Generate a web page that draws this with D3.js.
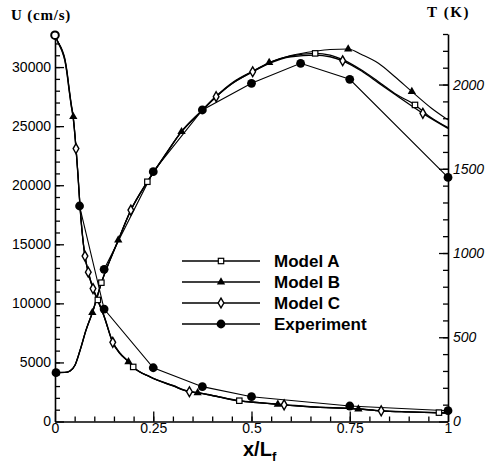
<!DOCTYPE html>
<html>
<head>
<meta charset="utf-8">
<script src="https://cdn.jsdelivr.net/npm/d3@7"></script>
<style>
  body { margin: 0; background: #fff; }
  text { fill: #000; }
</style>
</head>
<body>
<div id="chart"></div>
<script>
// velocity U (cm/s) along x/Lf, [x, U, marker]
const modelAU = [[0,32700,0],[0.0076,32100,0],[0.0178,31400,0],[0.0254,30560,0],[0.0305,29540,0],[0.0356,28190,0],[0.0407,26920,0],[0.0466,25650,0],[0.0534,23150,0],[0.0585,20870,0],[0.0636,18240,0],[0.0687,16210,0],[0.0763,14010,0],[0.0847,12660,0],[0.0967,11300,0],[0.109,10290,1],[0.125,8930,0],[0.147,6730,0],[0.165,5800,0],[0.187,5080,0],[0.199,4620,1],[0.242,3790,0],[0.3,3050,0],[0.342,2540,0],[0.363,2450,0],[0.4,2220,0],[0.469,1760,1],[0.52,1600,0],[0.567,1470,0],[0.583,1420,0],[0.65,1260,0],[0.772,1070,0],[0.83,910,0],[0.9,820,0],[0.977,750,1],[1,730,0]]
const modelBU = [[0,32700,0],[0.0076,32150,0],[0.0178,31500,0],[0.0254,30700,0],[0.0305,29700,0],[0.0356,28350,0],[0.0407,27050,0],[0.0466,25800,1],[0.0534,23250,0],[0.0585,20900,0],[0.0636,18240,0],[0.0687,16150,0],[0.0763,13950,0],[0.0847,12600,0],[0.0967,11200,0],[0.109,10200,0],[0.125,8850,0],[0.147,6650,0],[0.165,5750,0],[0.187,5050,1],[0.199,4600,0],[0.242,3760,0],[0.3,3000,0],[0.342,2510,0],[0.363,2430,1],[0.4,2190,0],[0.469,1730,0],[0.52,1580,0],[0.567,1450,1],[0.583,1400,0],[0.65,1230,0],[0.772,1050,1],[0.83,890,0],[0.9,800,0],[0.977,720,0],[1,700,0]]
const modelCU = [[0,32700,0],[0.0076,32100,0],[0.0178,31350,0],[0.0254,30500,0],[0.0305,29450,0],[0.0356,28100,0],[0.0407,26850,0],[0.0466,25600,0],[0.0534,23100,1],[0.0585,20800,0],[0.0636,18200,0],[0.0687,16100,0],[0.0763,14000,1],[0.0847,12640,1],[0.0967,11250,1],[0.109,10250,0],[0.125,8900,0],[0.147,6700,1],[0.165,5780,0],[0.187,5060,0],[0.199,4610,0],[0.242,3780,0],[0.3,3030,0],[0.342,2520,1],[0.363,2440,0],[0.4,2200,0],[0.469,1745,0],[0.52,1590,0],[0.567,1460,0],[0.583,1410,1],[0.65,1245,0],[0.772,1060,0],[0.83,900,1],[0.9,810,0],[0.977,735,0],[1,715,0]]
const expU = [[0.0625,18240],[0.125,9520],[0.25,4550],[0.375,2950],[0.5,2100],[0.75,1310],[1,914]]

// temperature T (K) along x/Lf, [x, T, marker]
const modelAT = [[0,290,0],[0.025,291,0],[0.038,300,0],[0.051,335,0],[0.064,424,0],[0.079,543,0],[0.095,646,0],[0.118,824,1],[0.161,1077,0],[0.193,1255,0],[0.235,1423,1],[0.28,1580,0],[0.322,1720,0],[0.37,1835,0],[0.41,1928,0],[0.45,2005,0],[0.503,2076,0],[0.545,2130,0],[0.6,2170,0],[0.662,2185,1],[0.7,2175,0],[0.732,2148,0],[0.78,2086,0],[0.823,2017,0],[0.87,1939,0],[0.916,1879,1],[0.95,1815,0],[1,1744,0]]
const modelBT = [[0,290,0],[0.025,291,0],[0.038,300,0],[0.051,336,0],[0.064,426,0],[0.079,545,0],[0.095,646,1],[0.118,822,0],[0.161,1077,1],[0.193,1252,0],[0.235,1420,0],[0.28,1578,0],[0.322,1720,1],[0.37,1837,0],[0.41,1932,0],[0.45,2010,0],[0.503,2080,0],[0.545,2130,1],[0.6,2172,0],[0.662,2198,0],[0.7,2208,0],[0.746,2211,1],[0.78,2178,0],[0.823,2126,0],[0.865,2046,0],[0.908,1958,1],[0.958,1859,0],[1,1790,0]]
const modelCT = [[0,290,0],[0.025,291,0],[0.038,299,0],[0.051,334,0],[0.064,422,0],[0.079,541,0],[0.095,644,0],[0.118,822,0],[0.161,1075,0],[0.193,1255,1],[0.235,1424,0],[0.28,1582,0],[0.322,1722,0],[0.37,1838,0],[0.41,1928,1],[0.45,2005,0],[0.503,2076,1],[0.545,2126,0],[0.6,2165,0],[0.662,2175,0],[0.7,2165,0],[0.732,2141,1],[0.78,2080,0],[0.823,2010,0],[0.87,1933,0],[0.936,1829,1],[1,1740,0]]
const expT = [[0.125,903],[0.25,1483],[0.375,1849],[0.5,2007],[0.625,2126],[0.75,2031],[1,1449]]

// inlet measurement at x = 0
const inletU = 32700
const inletT = 290

const legendNames = ['Model A', 'Model B', 'Model C', 'Experiment']
const xTicks = [0, 0.25, 0.5, 0.75, 1]
const xTickLabels = ['0', '0.25', '0.5', '0.75', '1']
const uTicks = [0, 5000, 10000, 15000, 20000, 25000, 30000]
const tTicks = [0, 500, 1000, 1500, 2000]

const W = 495, H = 467
const svg = d3.select('#chart').append('svg')
    .attr('width', W)
    .attr('height', H)
    .style('font-family', '"Liberation Sans", Arial, sans-serif')

const x = d3.scaleLinear([0, 1], [55, 448])
const yU = d3.scaleLinear([0, 32800], [421.5, 34])
const yT = d3.scaleLinear([0, 2300], [421.5, 34])

// axes, ticks point inward
const axisStyle = g => {
    g.select('.domain').attr('stroke', '#000').attr('stroke-width', 1.6)
    g.selectAll('.tick line').attr('stroke', '#000').attr('stroke-width', 1.3)
    g.selectAll('text').attr('font-size', 14).attr('fill', '#000')
}

svg.append('g').attr('transform', 'translate(55,0)')
    .call(d3.axisLeft(yU).tickValues(d3.range(1000, 32001, 1000)).tickSize(-5).tickSizeOuter(0).tickFormat(''))
    .call(axisStyle)
svg.append('g').attr('transform', 'translate(55,0)')
    .call(d3.axisLeft(yU).tickValues(uTicks).tickSize(-9).tickSizeOuter(0).tickPadding(4).tickFormat(d3.format('d')))
    .call(axisStyle)
    .call(g => g.select('.domain').remove())

svg.append('g').attr('transform', 'translate(448,0)')
    .call(d3.axisRight(yT).tickValues(d3.range(100, 2301, 100)).tickSize(-5).tickSizeOuter(0).tickFormat(''))
    .call(axisStyle)
svg.append('g').attr('transform', 'translate(448,0)')
    .call(d3.axisRight(yT).tickValues(tTicks).tickSize(-9).tickSizeOuter(0).tickPadding(5).tickFormat(d3.format('d')))
    .call(axisStyle)
    .call(g => g.select('.domain').remove())
    .call(g => g.selectAll('text').attr('font-style', 'italic'))

svg.append('g').attr('transform', 'translate(0,421.5)')
    .call(d3.axisBottom(x).tickValues(d3.range(0.05, 1, 0.05)).tickSize(-5).tickSizeOuter(0).tickFormat(''))
    .call(axisStyle)
svg.append('g').attr('transform', 'translate(0,421.5)')
    .call(d3.axisBottom(x).tickValues(xTicks).tickSize(-10).tickSizeOuter(0).tickPadding(2).tickFormat((d, i) => xTickLabels[i]))
    .call(axisStyle)
    .call(g => g.select('.domain').remove())

// axis titles
svg.append('text').attr('x', 11).attr('y', 20)
    .style('font-family', '"Liberation Serif", "Times New Roman", serif')
    .attr('font-weight', 'bold').attr('font-size', 15).attr('letter-spacing', 0.8)
    .text('U (cm/s)')
svg.append('text').attr('x', 427).attr('y', 17)
    .style('font-family', '"Liberation Serif", "Times New Roman", serif')
    .attr('font-weight', 'bold').attr('font-size', 15).attr('letter-spacing', 1.6)
    .text('T (K)')
const xl = svg.append('text').attr('x', 243).attr('y', 456)
    .attr('font-weight', 'bold').attr('font-size', 20)
xl.append('tspan').text('x/L')
xl.append('tspan').attr('font-size', 13).attr('dy', 5).text('f')

// lines
const modelLine = yScale => d3.line().x(d => x(d[0])).y(d => yScale(d[1])).curve(d3.curveMonotoneX)
const expLine = yScale => d3.line().x(d => x(d[0])).y(d => yScale(d[1]))

const addPath = (data, gen, w) => svg.append('path').datum(data)
    .attr('d', gen).attr('fill', 'none').attr('stroke', '#000').attr('stroke-width', w)

addPath(expU, expLine(yU), 1.1)
addPath(expT, expLine(yT), 1.1)
addPath(modelAU, modelLine(yU), 1.3)
addPath(modelBU, modelLine(yU), 1.1)
addPath(modelCU, modelLine(yU), 1.3)
addPath(modelAT, modelLine(yT), 1.3)
addPath(modelBT, modelLine(yT), 1.1)
addPath(modelCT, modelLine(yT), 1.3)

// markers
const markerFns = [
    (g) => g.append('rect').attr('x', -2.7).attr('y', -2.7).attr('width', 5.4).attr('height', 5.4)
        .attr('fill', '#fff').attr('stroke', '#000').attr('stroke-width', 1.2),
    (g) => g.append('path').attr('d', d3.symbol(d3.symbolTriangle, 30)).attr('fill', '#000'),
    (g) => g.append('path').attr('d', d3.symbol(d3.symbolDiamond, 28))
        .attr('fill', '#fff').attr('stroke', '#000').attr('stroke-width', 1.4),
    (g) => g.append('circle').attr('r', 4.4).attr('fill', '#000')
]

const addMarks = (data, yScale, k) => {
    svg.append('g').selectAll('g').data(data.filter(d => d.length < 3 || d[2] === 1))
        .enter().append('g')
        .attr('transform', d => `translate(${x(d[0])},${yScale(d[1])})`)
        .each(function () { markerFns[k](d3.select(this)) })
}

addMarks(modelAU, yU, 0)
addMarks(modelBU, yU, 1)
addMarks(modelCU, yU, 2)
addMarks(expU, yU, 3)
addMarks(modelAT, yT, 0)
addMarks(modelBT, yT, 1)
addMarks(modelCT, yT, 2)
addMarks(expT, yT, 3)

// inlet points at x = 0
svg.append('circle').attr('cx', x(0)).attr('cy', yU(inletU)).attr('r', 3.8)
    .attr('fill', '#fff').attr('stroke', '#000').attr('stroke-width', 2)
svg.append('circle').attr('cx', x(0) + 1).attr('cy', yT(inletT)).attr('r', 4.4).attr('fill', '#000')

// legend
const legend = svg.append('g')
legendNames.forEach((name, i) => {
    const ly = 261 + i * 21
    legend.append('line').attr('x1', 182).attr('x2', 260).attr('y1', ly).attr('y2', ly)
        .attr('stroke', '#000').attr('stroke-width', 1.3)
    const g = legend.append('g').attr('transform', `translate(221,${ly})`)
    markerFns[i](g)
    legend.append('text').attr('x', 274).attr('y', ly + 6)
        .attr('font-weight', 'bold').attr('font-size', 17)
        .text(name)
})
</script>
</body>
</html>
